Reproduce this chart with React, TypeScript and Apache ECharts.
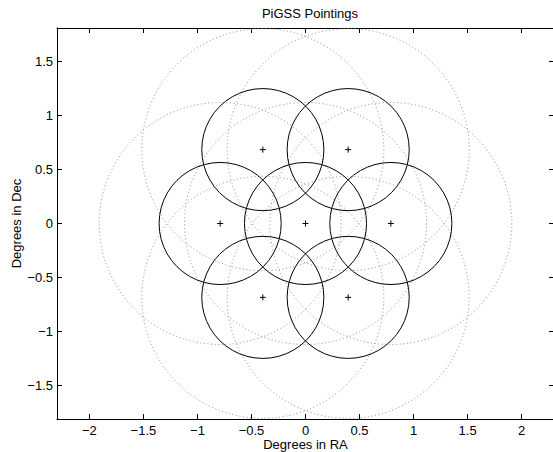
import React, { useEffect, useRef } from "react";
import * as echarts from "echarts";

// Pointing centres (degrees)
const pointRA = [0, 0.79, 0.395, -0.395, -0.79, -0.395, 0.395];
const pointDec = [0, 0, 0.684, 0.684, 0, -0.684, -0.684];
// Circle radii (degrees)
const beamRadius = 0.565;
const outerRadius = 1.12;

const xTicks = [-2, -1.5, -1, -0.5, 0, 0.5, 1, 1.5, 2];
const yTicks = [-1.5, -1, -0.5, 0, 0.5, 1, 1.5];
const xRange = [-2.3, 2.3];
const yRange = [-1.81, 1.81];

const FONT = "Liberation Sans, Arial, Helvetica, sans-serif";

const fmt = (v: number) => (v < 0 ? "\u2212" + String(-v) : String(v));

export default function App() {
  const ref = useRef<HTMLDivElement>(null);
  useEffect(() => {
    if (!ref.current) return;
    const chart = echarts.init(ref.current, undefined, { renderer: "svg" });

    const beamData = pointRA.map((ra, i) => [ra, pointDec[i], beamRadius]);
    const outerData = pointRA.map((ra, i) => [ra, pointDec[i], outerRadius]);
    const centreData = pointRA.map((ra, i) => [ra, pointDec[i]]);

    const circleRender = (dashed: boolean) => (params: any, api: any) => {
      const c = api.coord([api.value(0), api.value(1)]);
      const s = api.size([api.value(2), api.value(2)]);
      return {
        type: "circle",
        shape: { cx: c[0], cy: c[1], r: s[0] },
        style: dashed
          ? { fill: "none", stroke: "#8a8a8a", lineWidth: 1, lineDash: [1, 2.6] }
          : { fill: "none", stroke: "#000", lineWidth: 1 },
      };
    };

    const axisCommon = {
      type: "value" as const,
      axisLine: { show: true, onZero: false, lineStyle: { color: "#000", width: 1 } },
      splitLine: { show: false },
    };
    const tickStyle = { show: true, inside: true, length: 5, lineStyle: { color: "#000" } };
    const textStyle = { fontFamily: FONT, fontSize: 13, color: "#000" };

    chart.setOption({
      animation: false,
      backgroundColor: "#fff",
      title: {
        text: "PiGSS Pointings",
        left: 305,
        textAlign: "center",
        top: 2,
        textStyle: { ...textStyle, fontWeight: "normal" },
      },
      grid: { left: 57, right: -1, top: 28, bottom: 33, containLabel: false, outerBoundsMode: "none" },
      xAxis: [
        {
          ...axisCommon,
          position: "bottom",
          min: xRange[0],
          max: xRange[1],
          name: "Degrees in RA",
          nameLocation: "middle",
          nameGap: 19,
          nameMoveOverlap: false,
          nameTextStyle: textStyle,
          axisTick: { ...tickStyle, customValues: xTicks },
          axisLabel: { show: true, customValues: xTicks, margin: 5, formatter: fmt, ...textStyle },
        },
        {
          ...axisCommon,
          position: "top",
          min: xRange[0],
          max: xRange[1],
          axisTick: { ...tickStyle, customValues: xTicks },
          axisLabel: { show: false },
        },
      ],
      yAxis: [
        {
          ...axisCommon,
          position: "left",
          min: yRange[0],
          max: yRange[1],
          name: "Degrees in Dec",
          nameLocation: "middle",
          nameGap: 34,
          nameMoveOverlap: false,
          nameRotate: 90,
          nameTextStyle: textStyle,
          axisTick: { ...tickStyle, customValues: yTicks },
          axisLabel: { show: true, customValues: yTicks, margin: 4, formatter: fmt, ...textStyle },
        },
        {
          ...axisCommon,
          position: "right",
          min: yRange[0],
          max: yRange[1],
          axisLine: { show: false, onZero: false },
          axisTick: { ...tickStyle, customValues: yTicks },
          axisLabel: { show: false },
        },
      ],
      series: [
        {
          type: "custom",
          name: "outer",
          xAxisIndex: 0,
          yAxisIndex: 0,
          clip: true,
          silent: true,
          encode: { x: 0, y: 1 },
          data: outerData,
          renderItem: circleRender(true),
        },
        {
          type: "custom",
          name: "beam",
          xAxisIndex: 0,
          yAxisIndex: 0,
          clip: true,
          silent: true,
          encode: { x: 0, y: 1 },
          data: beamData,
          renderItem: circleRender(false),
        },
        {
          type: "custom",
          name: "centres",
          xAxisIndex: 0,
          yAxisIndex: 0,
          clip: true,
          silent: true,
          encode: { x: 0, y: 1 },
          data: centreData,
          renderItem: (params: any, api: any) => {
            const c = api.coord([api.value(0), api.value(1)]);
            const h = 3;
            return {
              type: "group",
              children: [
                { type: "line", shape: { x1: c[0] - h, y1: c[1], x2: c[0] + h, y2: c[1] }, style: { stroke: "#000", lineWidth: 1 } },
                { type: "line", shape: { x1: c[0], y1: c[1] - h, x2: c[0], y2: c[1] + h }, style: { stroke: "#000", lineWidth: 1 } },
              ],
            };
          },
        },
      ],
    });
    return () => chart.dispose();
  }, []);
  return <div ref={ref} style={{ position: "fixed", left: 0, top: 0, width: 553, height: 452 }} />;
}
